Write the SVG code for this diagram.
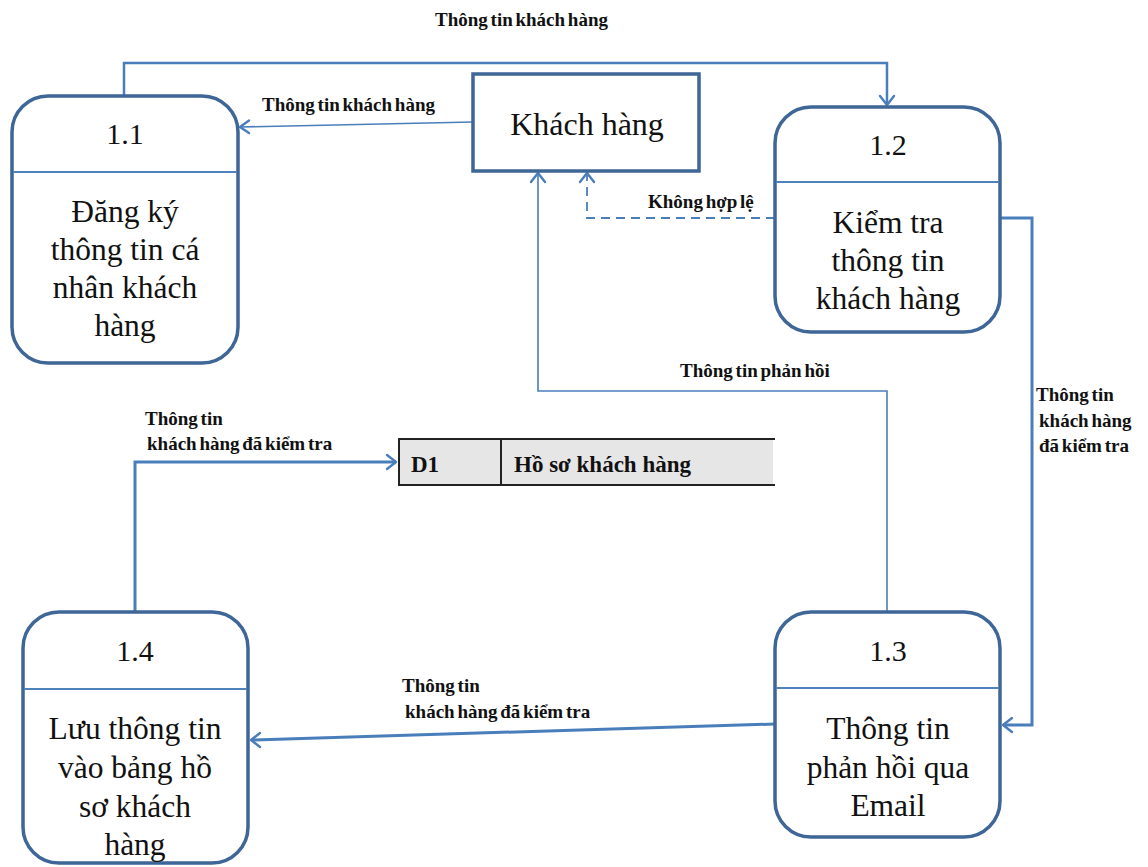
<svg xmlns="http://www.w3.org/2000/svg" width="1148" height="867" viewBox="0 0 1148 867" font-family="'Liberation Serif', serif">
  <style>
    .proc { fill: #ffffff; stroke: #3e6696; stroke-width: 3.5; }
    .divider { stroke: #4f81bd; stroke-width: 2; }
    .num { font-size: 30px; fill: #111; text-anchor: middle; }
    .body { font-size: 31.5px; fill: #111; text-anchor: middle; }
    .ent { font-size: 32px; fill: #111; text-anchor: middle; }
    .lbl { font-size: 19px; font-weight: bold; fill: #111; word-spacing: -2px; }
    .flow { fill: none; stroke: #4a7ebb; stroke-width: 2.5; }
    .thin { stroke-width: 1.6; }
    .thick { stroke-width: 3; }
    .dash { stroke-dasharray: 9 6; stroke-width: 1.8; }
    .head { fill: none; stroke: #4a7ebb; stroke-width: 2.4; stroke-linecap: round; stroke-linejoin: round; }
    .store-line { stroke: #222; stroke-width: 2; }
    .store-text { font-size: 23px; font-weight: bold; fill: #111; }
  </style>

  <rect width="1148" height="867" fill="#ffffff"/>

  <!-- data flows -->
  <g id="connectors">
    <!-- 1.1 to 1.2 over the top -->
    <path class="flow" d="M124,96 V63 H887 V105"/>
    <path class="head" d="M880,96 L887,105 L894,96"/>
    <text class="lbl" x="435" y="26" font-family="'Liberation Serif', serif">Thông tin khách hàng</text>

    <!-- customer to 1.1 -->
    <path class="flow thin" d="M473,122 L240,127"/>
    <path class="head" d="M249,120.5 L240,127 L249,133"/>
    <text class="lbl" x="262" y="111" font-family="'Liberation Serif', serif">Thông tin khách hàng</text>

    <!-- 1.2 rejects back to customer -->
    <path class="flow dash" d="M775,218 H587 V173"/>
    <path class="head" d="M580,182 L587,173 L594,182"/>
    <text class="lbl" x="648" y="208" font-family="'Liberation Serif', serif">Không hợp lệ</text>

    <!-- 1.3 feedback to customer -->
    <path class="flow thin" d="M887,612 V391 H538 V173"/>
    <path class="head" d="M531,182 L538,173 L545,182"/>
    <text class="lbl" x="680" y="377" font-family="'Liberation Serif', serif">Thông tin phản hồi</text>

    <!-- 1.2 to 1.3 -->
    <path class="flow thick" d="M1000,218 H1032 V725 H1003"/>
    <path class="head" d="M1012,718 L1003,725 L1012,732"/>
    <text class="lbl" x="1036" y="401" font-family="'Liberation Serif', serif">Thông tin</text>
    <text class="lbl" x="1039" y="427" font-family="'Liberation Serif', serif">khách hàng</text>
    <text class="lbl" x="1039" y="452" font-family="'Liberation Serif', serif">đã kiểm tra</text>

    <!-- 1.3 to 1.4 -->
    <path class="flow thick" d="M775,724 L251,740"/>
    <path class="head" d="M260,733 L251,740 L260,747"/>
    <text class="lbl" x="402" y="692" font-family="'Liberation Serif', serif">Thông tin</text>
    <text class="lbl" x="405" y="718" font-family="'Liberation Serif', serif">khách hàng đã kiểm tra</text>

    <!-- 1.4 to data store D1 -->
    <path class="flow thick" d="M135,612 V462 H396"/>
    <path class="head" d="M387,455 L396,462 L387,469"/>
    <text class="lbl" x="145" y="425" font-family="'Liberation Serif', serif">Thông tin</text>
    <text class="lbl" x="147" y="450" font-family="'Liberation Serif', serif">khách hàng đã kiểm tra</text>
  </g>

  <!-- external entity -->
  <g id="khach-hang">
    <rect x="473" y="74" width="226" height="97" fill="#ffffff" stroke="#3e6696" stroke-width="3.5"/>
    <text class="ent" x="587" y="135" font-family="'Liberation Serif', serif">Khách hàng</text>
  </g>

  <!-- process 1.1 -->
  <g id="p1-1">
    <rect class="proc" x="12" y="96" width="226" height="267" rx="36" ry="36"/>
    <line class="divider" x1="13" y1="172" x2="237" y2="172"/>
    <text class="num" x="125" y="144" font-family="'Liberation Serif', serif">1.1</text>
    <text class="body" x="125" y="222" font-family="'Liberation Serif', serif">Đăng ký</text>
    <text class="body" x="125" y="260" font-family="'Liberation Serif', serif">thông tin cá</text>
    <text class="body" x="125" y="298" font-family="'Liberation Serif', serif">nhân khách</text>
    <text class="body" x="125" y="336" font-family="'Liberation Serif', serif">hàng</text>
  </g>

  <!-- process 1.2 -->
  <g id="p1-2">
    <rect class="proc" x="775" y="107" width="225" height="225" rx="36" ry="36"/>
    <line class="divider" x1="776" y1="182" x2="999" y2="182"/>
    <text class="num" x="888" y="155" font-family="'Liberation Serif', serif">1.2</text>
    <text class="body" x="888" y="233" font-family="'Liberation Serif', serif">Kiểm tra</text>
    <text class="body" x="888" y="271" font-family="'Liberation Serif', serif">thông tin</text>
    <text class="body" x="888" y="309" font-family="'Liberation Serif', serif">khách hàng</text>
  </g>

  <!-- process 1.3 -->
  <g id="p1-3">
    <rect class="proc" x="775" y="612" width="225" height="225" rx="36" ry="36"/>
    <line class="divider" x1="776" y1="688" x2="999" y2="688"/>
    <text class="num" x="888" y="661" font-family="'Liberation Serif', serif">1.3</text>
    <text class="body" x="888" y="739" font-family="'Liberation Serif', serif">Thông tin</text>
    <text class="body" x="888" y="778" font-family="'Liberation Serif', serif">phản hồi qua</text>
    <text class="body" x="888" y="816" font-family="'Liberation Serif', serif">Email</text>
  </g>

  <!-- process 1.4 -->
  <g id="p1-4">
    <rect class="proc" x="23" y="612" width="225" height="251" rx="36" ry="36"/>
    <line class="divider" x1="24" y1="689" x2="247" y2="689"/>
    <text class="num" x="135" y="661" font-family="'Liberation Serif', serif">1.4</text>
    <text class="body" x="135" y="739" font-family="'Liberation Serif', serif">Lưu thông tin</text>
    <text class="body" x="135" y="778" font-family="'Liberation Serif', serif">vào bảng hồ</text>
    <text class="body" x="135" y="817" font-family="'Liberation Serif', serif">sơ khách</text>
    <text class="body" x="135" y="855" font-family="'Liberation Serif', serif">hàng</text>
  </g>

  <!-- data store D1 -->
  <g id="d1">
    <rect x="398" y="439" width="375" height="46" fill="#e6e6e6"/>
    <line class="store-line" x1="398" y1="439" x2="775" y2="439"/>
    <line class="store-line" x1="398" y1="485" x2="775" y2="485"/>
    <line class="store-line" x1="399" y1="439" x2="399" y2="485"/>
    <line class="store-line" x1="501" y1="439" x2="501" y2="485"/>
    <text class="store-text" x="411" y="472" font-family="'Liberation Serif', serif">D1</text>
    <text class="store-text" x="514" y="472" font-family="'Liberation Serif', serif">Hồ sơ khách hàng</text>
  </g>
</svg>
